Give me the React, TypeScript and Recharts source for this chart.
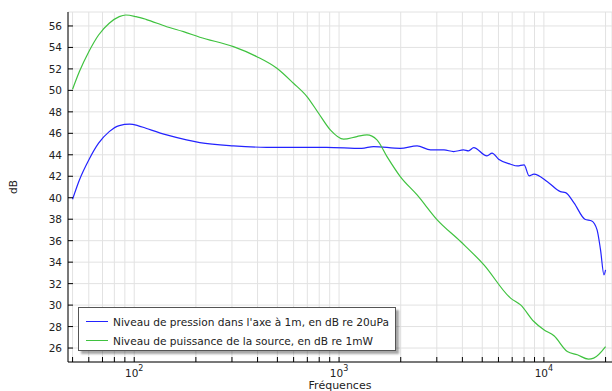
import { LineChart, Line, XAxis, YAxis, CartesianGrid, Legend } from 'recharts'

// Niveau de pression dans l'axe (bleu)
const pressionFreq = [
  50, 54, 60, 67, 75.5, 84.5, 95, 104, 114, 144, 180, 209, 305, 443, 868, 1290, 1473, 1990, 2404, 2796,
  3253, 3625, 4050, 4287, 4541, 5273, 5584, 6010, 6875, 7418, 8000, 8470, 8935, 10400, 12040, 12760,
  14050, 15850, 17130, 18180, 18900, 19650, 20000,
]
const pressionDb = [
  39.86, 41.66, 43.52, 45.08, 46.16, 46.72, 46.85, 46.72, 46.47, 45.85, 45.39, 45.14, 44.83, 44.7, 44.7,
  44.6, 44.77, 44.6, 44.83, 44.45, 44.45, 44.3, 44.45, 44.36, 44.67, 43.9, 44.15, 43.59, 43.12, 42.96,
  43.06, 42.03, 42.19, 41.5, 40.57, 40.48, 39.5, 38.0, 37.84, 37.0, 35.14, 32.82, 33.28,
]

// Niveau de puissance de la source (vert)
const puissanceFreq = [
  50, 54, 60, 67, 75.5, 84.5, 91, 102, 114, 144, 174, 209, 305, 397, 497, 599, 697, 794, 906, 1052, 1222,
  1368, 1531, 1714, 1990, 2404, 3013, 3919, 5096, 6875, 7693, 8935, 9996, 11200, 13010, 14560, 16500,
  17500, 20000,
]
const puissanceDb = [
  50.1, 51.75, 53.6, 55.16, 56.25, 56.87, 57.02, 56.87, 56.62, 55.93, 55.47, 54.95, 54.07, 53.14, 52.06,
  50.66, 49.42, 47.87, 46.32, 45.45, 45.7, 45.85, 45.39, 43.83, 41.97, 40.26, 37.94, 35.92, 33.75, 30.65,
  30.02, 28.47, 27.7, 27.14, 25.68, 25.37, 24.97, 25.06, 26.14,
]

const freqTicks = [
  50, 60, 70, 80, 90, 100, 200, 300, 400, 500, 600, 700, 800, 900, 1000, 2000, 3000, 4000, 5000, 6000,
  7000, 8000, 9000, 10000, 20000,
]
const decadeExp: Record<number, string> = { 100: '2', 1000: '3', 10000: '4' }
const dbTicks = [26, 28, 30, 32, 34, 36, 38, 40, 42, 44, 46, 48, 50, 52, 54, 56]

const pression = pressionFreq.map((f, i) => ({ freq: f, db: pressionDb[i] }))
const puissance = puissanceFreq.map((f, i) => ({ freq: f, db: puissanceDb[i] }))

const font = 'DejaVu Sans'
const xDomain = [47.5, 21500]
const yDomain = [24.7, 57.3]

function BottomTick({ x, y, payload }: any) {
  const exp = decadeExp[payload.value]
  return (
    <g>
      <line x1={x} x2={x} y1={y} y2={y - 5} stroke="#000" />
      {exp && (
        <text x={x} y={y + 15} textAnchor="middle" fontFamily={font} fontSize={10.5} fill="#222">
          10<tspan dy={-6} fontSize={8}>{exp}</tspan>
        </text>
      )}
    </g>
  )
}

function TopTick({ x, y, payload }: any) {
  const major = !!decadeExp[payload.value]
  return <line x1={x} x2={x} y1={y} y2={y + 5} stroke={major ? '#000' : '#666'} />
}

function LeftTick({ x, y, payload }: any) {
  return (
    <g>
      <line x1={x} x2={x + 5} y1={y} y2={y} stroke="#000" />
      <text x={x - 6} y={y} dy={4} textAnchor="end" fontFamily={font} fontSize={10.5} fill="#222">
        {payload.value}
      </text>
    </g>
  )
}

function RightTick({ x, y }: any) {
  return <line x1={x} x2={x - 4} y1={y} y2={y} stroke="#000" />
}

function LegendBox({ payload }: any) {
  return (
    <div
      style={{
        width: 318,
        height: 44,
        background: '#fff',
        border: '1px solid #555',
        boxShadow: '3px 3px 2px rgba(0,0,0,0.35)',
        fontFamily: font,
        fontSize: 10.6,
        color: '#222',
        boxSizing: 'border-box',
        paddingTop: 4,
      }}
    >
      {(payload || []).map((p: any) => (
        <div key={p.value} style={{ display: 'flex', alignItems: 'center', height: 19 }}>
          <span style={{ display: 'inline-block', width: 22, height: 0, borderTop: `1.5px solid ${p.color}`, marginLeft: 7, marginRight: 5 }} />
          <span>{p.value}</span>
        </div>
      ))}
    </div>
  )
}

export default function App() {
  return (
    <div style={{ position: 'absolute', left: 0, top: 0, background: '#fff' }}>
      <LineChart width={612} height={391} margin={{ top: 12, right: 0, bottom: 0, left: 0 }}>
        <CartesianGrid stroke="#e2e2e2" />
        <XAxis
          dataKey="freq"
          type="number"
          scale="log"
          domain={xDomain}
          allowDataOverflow
          ticks={freqTicks}
          interval={0}
          height={29}
          tickSize={0}
          tickMargin={0}
          tickLine={false}
          tick={<BottomTick />}
          axisLine={{ stroke: '#000' }}
          label={{ value: 'Fréquences', position: 'insideBottom', offset: 2, fontFamily: font, fontSize: 11, fill: '#222' }}
        />
        <XAxis
          xAxisId="top"
          dataKey="freq"
          orientation="top"
          type="number"
          scale="log"
          domain={xDomain}
          allowDataOverflow
          ticks={freqTicks}
          interval={0}
          height={0}
          tickSize={0}
          tickMargin={0}
          tickLine={false}
          tick={<TopTick />}
          axisLine={{ stroke: '#000' }}
        />
        <YAxis
          type="number"
          domain={yDomain}
          allowDataOverflow
          ticks={dbTicks}
          interval={0}
          width={68}
          tickSize={0}
          tickMargin={0}
          tickLine={false}
          tick={<LeftTick />}
          axisLine={{ stroke: '#000' }}
          label={{ value: 'dB', angle: -90, position: 'insideLeft', offset: 13, fontFamily: font, fontSize: 10.5, fill: '#222', style: { textAnchor: 'middle' } }}
        />
        <YAxis
          yAxisId="right"
          orientation="right"
          type="number"
          domain={yDomain}
          allowDataOverflow
          ticks={dbTicks}
          interval={0}
          width={0}
          tickSize={0}
          tickMargin={0}
          tickLine={false}
          tick={<RightTick />}
          axisLine={{ stroke: '#000' }}
        />
        <Legend
          layout="vertical"
          align="center"
          verticalAlign="middle"
          content={<LegendBox />}
          wrapperStyle={{ left: 78, top: 307, width: 320, height: 46 }}
        />
        <Line
          data={pression}
          dataKey="db"
          name="Niveau de pression dans l'axe à 1m, en dB re 20uPa"
          stroke="#2323ff"
          strokeWidth={1.2}
          dot={false}
          type="monotone"
          isAnimationActive={false}
        />
        <Line
          data={puissance}
          dataKey="db"
          name="Niveau de puissance de la source, en dB re 1mW"
          stroke="#3fc23f"
          strokeWidth={1.2}
          dot={false}
          type="monotone"
          isAnimationActive={false}
        />
      </LineChart>
    </div>
  )
}
